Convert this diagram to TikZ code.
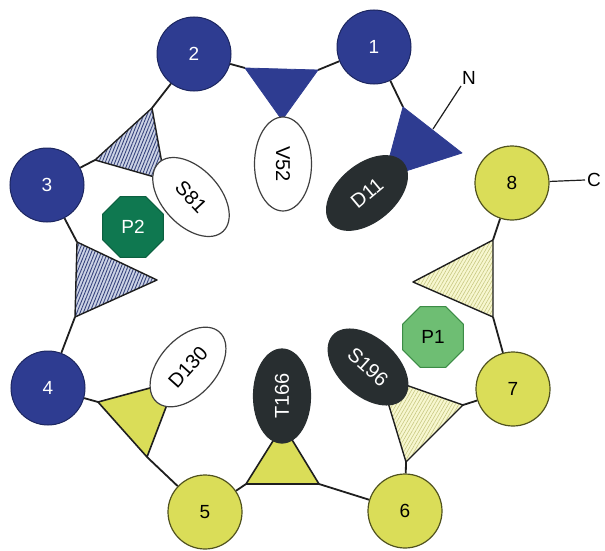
\documentclass[tikz,border=0pt]{standalone}
\usepackage{fontspec}
\setmainfont{Liberation Sans}
\usetikzlibrary{shapes.geometric,patterns.meta}
\definecolor{cblue}{RGB}{46,60,145}
\definecolor{cbluedk}{RGB}{28,38,95}
\definecolor{cyel}{RGB}{218,221,88}
\definecolor{cyeldk}{RGB}{80,82,30}
\definecolor{cdark}{RGB}{40,46,48}
\definecolor{hbfill}{RGB}{205,212,230}
\definecolor{hbline}{RGB}{55,68,125}
\definecolor{hyfill}{RGB}{247,247,208}
\definecolor{hyline}{RGB}{200,200,130}
\definecolor{pdark}{RGB}{15,120,80}
\definecolor{plight}{RGB}{110,190,115}
\definecolor{plightdk}{RGB}{60,140,70}
\definecolor{lnc}{RGB}{30,30,30}
\pgfdeclarelayer{back}
\pgfsetlayers{back,main}
\tikzset{
  lbl/.style={font=\fontsize{19}{19}\selectfont},
  elbl/.style={font=\fontsize{20}{20}\selectfont},
  bcirc/.style={circle,minimum size=74pt,inner sep=0pt,fill=cblue,draw=cbluedk,line width=1pt,text=white,lbl},
  ycirc/.style={circle,minimum size=74pt,inner sep=0pt,fill=cyel,draw=cyeldk,line width=1.2pt,text=black,lbl},
  conn/.style={draw=lnc,line width=1.8pt},
  thin conn/.style={draw=lnc,line width=1.2pt},
  tblue/.style={fill=cblue,draw=cblue,line width=0.8pt,line join=round},
  tyel/.style={fill=cyel,draw=lnc,line width=1.6pt,line join=round},
  thb/.style={preaction={fill=hbfill},pattern={Lines[angle=68,distance=3pt,line width=0.9pt]},pattern color=hbline,draw=lnc,line width=1.4pt,line join=round},
  thy/.style={preaction={fill=hyfill},pattern={Lines[angle=60,distance=3pt,line width=0.6pt]},pattern color=hyline,draw=lnc,line width=1.4pt,line join=round},
  ewhite/.style={ellipse,minimum width=94pt,minimum height=57pt,inner sep=0pt,fill=white,draw=black!75,line width=1.2pt,elbl},
  edark/.style={ellipse,minimum width=94pt,minimum height=57pt,inner sep=0pt,fill=cdark,draw=cdark,line width=1.2pt,text=white,elbl},
  octo/.style={regular polygon,regular polygon sides=8,minimum size=66pt,inner sep=0pt,line width=1pt,lbl}
}
\begin{document}
\begin{tikzpicture}[x=1pt,y=-1pt]
\useasboundingbox (0,0) rectangle (605,551);
% circles
\node[bcirc] (c1) at (374,47) {1};
\node[bcirc] (c2) at (194,54) {2};
\node[bcirc] (c3) at (47,185) {3};
\node[bcirc] (c4) at (48,388) {4};
\node[ycirc] (c5) at (205,512) {5};
\node[ycirc] (c6) at (405,511) {6};
\node[ycirc] (c7) at (513,389) {7};
\node[ycirc] (c8) at (512,183) {8};
% triangle vertices
\coordinate (ta1) at (245,68);  \coordinate (ta2) at (318,70);  \coordinate (ta3) at (282,120);
\coordinate (tb1) at (403,107); \coordinate (tb2) at (462,153); \coordinate (tb3) at (384,178);
\coordinate (tc1) at (152,108); \coordinate (tc2) at (95,160);  \coordinate (tc3) at (165,180);
\coordinate (td1) at (77,242);  \coordinate (td2) at (157,280); \coordinate (td3) at (75,317);
\coordinate (te1) at (98,402);  \coordinate (te2) at (176,381); \coordinate (te3) at (147,457);
\coordinate (tf1) at (246,484); \coordinate (tf2) at (319,484); \coordinate (tf3) at (283,425);
\coordinate (tg1) at (380,376); \coordinate (tg2) at (463,405); \coordinate (tg3) at (406,462);
\coordinate (th1) at (493,240); \coordinate (th2) at (413,282); \coordinate (th3) at (493,317);
\coordinate (nstart) at (433,129); \coordinate (nend) at (461,86);
\coordinate (cend) at (585,180);
% connectors (behind everything)
\begin{pgfonlayer}{back}
\draw[conn] (c2) -- (ta1);
\draw[conn] (ta2) -- (c1);
\draw[conn] (c1) -- (tb1);
\draw[conn] (c2) -- (tc1);
\draw[conn] (c3) -- (tc2);
\draw[conn] (c3) -- (td1);
\draw[conn] (td3) -- (c4);
\draw[conn] (c4) -- (te1);
\draw[conn] (te3) -- (c5);
\draw[conn] (c5) -- (tf1);
\draw[conn] (tf2) -- (c6);
\draw[conn] (c6) -- (tg3);
\draw[conn] (tg2) -- (c7);
\draw[conn] (c7) -- (th3);
\draw[conn] (th1) -- (c8);
\draw[thin conn] (nstart) -- (nend);
\draw[thin conn] (c8) -- (cend);
\end{pgfonlayer}
\node[lbl,anchor=south west,inner sep=1pt] (nl) at (nend) {N};
\node[lbl,anchor=west,inner sep=2pt] (cl) at (cend) {C};
% triangles
\draw[tblue] (ta1) -- (ta2) -- (ta3) -- cycle;
\draw[tblue] (tb1) -- (tb2) -- (tb3) -- cycle;
\draw[thb] (tc1) -- (tc2) -- (tc3) -- cycle;
\draw[thb] (td1) -- (td2) -- (td3) -- cycle;
\draw[tyel] (te1) -- (te2) -- (te3) -- cycle;
\draw[tyel] (tf1) -- (tf2) -- (tf3) -- cycle;
\draw[thy] (tg1) -- (tg2) -- (tg3) -- cycle;
\draw[thy] (th1) -- (th2) -- (th3) -- cycle;
% ellipses
\node[ewhite,rotate=-90] (v52) at (283,164) {V52};
\node[edark,rotate=40] (d11) at (367,193) {D11};
\node[ewhite,rotate=-47] (s81) at (191,197) {S81};
\node[ewhite,rotate=48] (d130) at (188,367) {D130};
\node[edark,rotate=90] (t166) at (282,396) {T166};
\node[edark,rotate=-42] (s196) at (368,367) {S196};
% octagons
\node[octo,fill=pdark,draw=pdark!80!black,text=white] (p2) at (133,227) {P2};
\node[octo,fill=plight,draw=plightdk,text=black] (p1) at (433,337) {P1};
\end{tikzpicture}
\end{document}
